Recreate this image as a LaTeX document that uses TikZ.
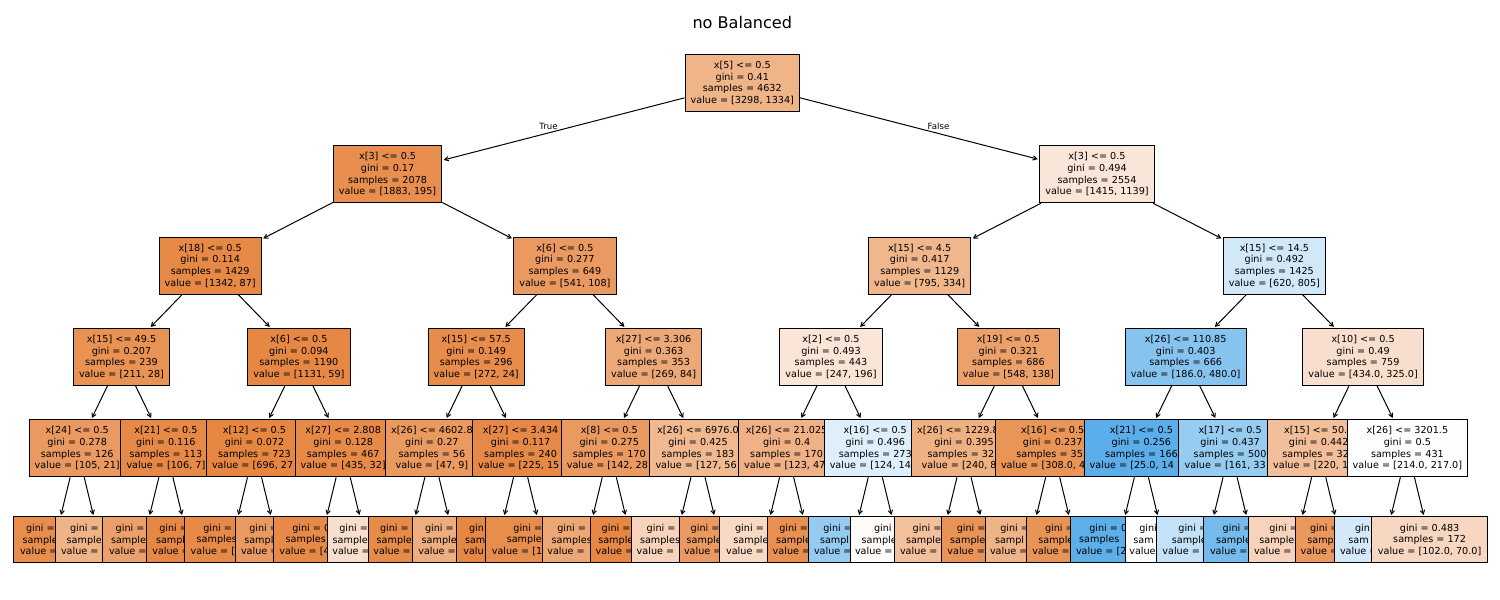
\documentclass[tikz,border=0pt]{standalone}
\usepackage{fontspec}
\setmainfont{DejaVu Sans}
\usetikzlibrary{arrows.meta}
\definecolor{corg}{RGB}{229,129,57}
\definecolor{cblu}{RGB}{57,157,229}
\newcommand{\treefont}{\fontsize{9.65}{11.6}\selectfont}
\newcommand{\leaflines}[6]{\makebox[#1pt][l]{#2}\\\makebox[#3pt][l]{#4}\\\makebox[#5pt][l]{#6}}
\newcommand{\lfd}[3]{\leaflines{#1}{gini =}{#2}{sample}{#3}{value =}}
\tikzset{
  nd/.style={draw=black, line width=1pt, align=center, font=\treefont, inner xsep=5.6pt, inner ysep=0pt, minimum height=57pt},
  lf/.style={nd, minimum height=45.6pt, inner xsep=0pt},
  ed/.style={-{Straight Barb[length=3.9pt,width=4.4pt]}, line width=1pt, shorten >=1.5pt},
  lbl/.style={font=\fontsize{8.6}{10}\selectfont, inner sep=0pt}
}
\begin{document}
\begin{tikzpicture}[x=1pt,y=-1pt]
\fill[white] (0,0) rectangle (1500,600);
\useasboundingbox (0,0) rectangle (1500,600);
\node[font=\fontsize{16.1}{19}\selectfont] (title) at (742.3,22.5) {no Balanced};
% root
\node[nd, fill=corg!59.6!white] (r) at (742.3,83) {x[5] <= 0.5\\gini = 0.41\\samples = 4632\\value = [3298, 1334]};
% ---------- left subtree
\node[nd, fill=corg!89.6!white] (a1) at (387.6,174.3) {x[3] <= 0.5\\gini = 0.17\\samples = 2078\\value = [1883, 195]};
\draw[ed] (r) -- (a1);
\node[nd, fill=corg!93.5!white] (b1) at (210.2,265.7) {x[18] <= 0.5\\gini = 0.114\\samples = 1429\\value = [1342, 87]};
\draw[ed] (a1) -- (b1);
\node[nd, fill=corg!86.7!white] (c1) at (121.5,357) {x[15] <= 49.5\\gini = 0.207\\samples = 239\\value = [211, 28]};
\draw[ed] (b1) -- (c1);
\node[nd, fill=corg!80!white] (d1) at (77.2,448.3) {x[24] <= 0.5\\gini = 0.278\\samples = 126\\value = [105, 21]};
\draw[ed] (c1) -- (d1);
\node[lf, minimum width=83.4pt, fill=corg!90!white] (e0) at (55.0,539.7) {\lfd{58}{64.6}{70}};
\draw[ed] (d1) -- (e0);
\node[lf, minimum width=87.6pt, fill=corg!60!white] (e1) at (99.3,539.7) {\lfd{58.6}{65.2}{76.6}};
\draw[ed] (d1) -- (e1);
\node[nd, fill=corg!93.4!white] (d2) at (165.9,448.3) {x[21] <= 0.5\\gini = 0.116\\samples = 113\\value = [106, 7]};
\draw[ed] (c1) -- (d2);
\node[lf, minimum width=82.8pt, fill=corg!75!white] (e2) at (143.7,539.7) {\lfd{56}{65.4}{69.4}};
\draw[ed] (d2) -- (e2);
\node[lf, minimum width=82.6pt, fill=corg!95!white] (e3) at (188.0,539.7) {\leaflines{57.4}{gini =}{64}{sampl}{71.4}{value =}};
\draw[ed] (d2) -- (e3);
\node[nd, fill=corg!94.8!white] (c2) at (298.9,357) {x[6] <= 0.5\\gini = 0.094\\samples = 1190\\value = [1131, 59]};
\draw[ed] (b1) -- (c2);
\node[nd, fill=corg!96.1!white] (d3) at (254.5,448.3) {x[12] <= 0.5\\gini = 0.072\\samples = 723\\value = [696, 27\phantom{]}};
\draw[ed] (c2) -- (d3);
\node[lf, minimum width=96.2pt, fill=corg!93!white] (e4) at (232.4,539.7) {\leaflines{58.2}{gini =}{71.4}{samples}{83.4}{value = [}};
\draw[ed] (d3) -- (e4);
\node[lf, minimum width=82.8pt, fill=corg!80!white] (e5) at (276.7,539.7) {\leaflines{54.8}{gini =}{64.8}{sampl}{71.4}{value =}};
\draw[ed] (d3) -- (e5);
\node[nd, fill=corg!92.6!white] (d4) at (343.2,448.3) {x[27] <= 2.808\\gini = 0.128\\samples = 467\\value = [435, 32]};
\draw[ed] (c2) -- (d4);
\node[lf, minimum width=95.4pt, fill=corg!93!white] (e6) at (321.0,539.7) {\leaflines{57.4}{gini = 0}{70.6}{samples}{83.4}{value = [4}};
\draw[ed] (d4) -- (e6);
\node[lf, minimum width=75.4pt, fill=corg!25!white] (e7) at (365.4,539.7) {\lfd{52.2}{65.4}{66.2}};
\draw[ed] (d4) -- (e7);
\node[nd, fill=corg!80!white] (b2) at (564.9,265.7) {x[6] <= 0.5\\gini = 0.277\\samples = 649\\value = [541, 108]};
\draw[ed] (a1) -- (b2);
\node[nd, fill=corg!91.2!white] (c3) at (476.2,357) {x[15] <= 57.5\\gini = 0.149\\samples = 296\\value = [272, 24]};
\draw[ed] (b2) -- (c3);
\node[nd, fill=corg!80.9!white] (d5) at (431.9,448.3) {x[26] <= 4602.8\\gini = 0.27\\samples = 56\\value = [47, 9]};
\draw[ed] (c3) -- (d5);
\node[lf, minimum width=82.8pt, fill=corg!92!white] (e8) at (409.7,539.7) {\lfd{59.4}{66}{72.8}};
\draw[ed] (d5) -- (e8);
\node[lf, minimum width=82.8pt, fill=corg!65!white] (e9) at (454.1,539.7) {\lfd{58.2}{64.8}{71.6}};
\draw[ed] (d5) -- (e9);
\node[nd, fill=corg!93.3!white] (d6) at (520.6,448.3) {x[27] <= 3.434\\gini = 0.117\\samples = 240\\value = [225, 15\phantom{]}};
\draw[ed] (c3) -- (d6);
\node[lf, minimum width=83.4pt, fill=corg!95!white] (e10) at (498.4,539.7) {\leaflines{58.8}{gin}{66.8}{sam}{70.2}{valu}};
\draw[ed] (d6) -- (e10);
\node[lf, minimum width=115pt, fill=corg!90!white] (e11) at (542.8,539.7) {\leaflines{58.8}{gini =}{72}{sample}{102}{value = [1}};
\draw[ed] (d6) -- (e11);
\node[nd, fill=corg!68.8!white] (c4) at (653.6,357) {x[27] <= 3.306\\gini = 0.363\\samples = 353\\value = [269, 84]};
\draw[ed] (b2) -- (c4);
\node[nd, fill=corg!80.3!white] (d7) at (609.3,448.3) {x[8] <= 0.5\\gini = 0.275\\samples = 170\\value = [142, 28\phantom{]}};
\draw[ed] (c4) -- (d7);
\node[lf, minimum width=88.8pt, fill=corg!70!white] (e12) at (587.1,539.7) {\leaflines{59.6}{gini =}{70.8}{samples}{79.6}{value =}};
\draw[ed] (d7) -- (e12);
\node[lf, minimum width=82.8pt, fill=corg!95!white] (e13) at (631.4,539.7) {\lfd{59.4}{66.2}{71.4}};
\draw[ed] (d7) -- (e13);
\node[nd, fill=corg!55.9!white] (d8) at (698.0,448.3) {x[26] <= 6976.0\\gini = 0.425\\samples = 183\\value = [127, 56\phantom{]}};
\draw[ed] (c4) -- (d8);
\node[lf, minimum width=88.2pt, fill=corg!35!white] (e14) at (675.8,539.7) {\leaflines{58.2}{gini =}{71.6}{samples}{78.2}{value =}};
\draw[ed] (d8) -- (e14);
\node[lf, minimum width=82.2pt, fill=corg!80!white] (e15) at (720.1,539.7) {\lfd{58.8}{66.8}{72.2}};
\draw[ed] (d8) -- (e15);
% ---------- right subtree
\node[nd, fill=corg!19.5!white] (a2) at (1097.0,174.3) {x[3] <= 0.5\\gini = 0.494\\samples = 2554\\value = [1415, 1139]};
\draw[ed] (r) -- (a2);
\node[nd, fill=corg!58!white] (b3) at (919.7,265.7) {x[15] <= 4.5\\gini = 0.417\\samples = 1129\\value = [795, 334]};
\draw[ed] (a2) -- (b3);
\node[nd, fill=corg!20.6!white] (c5) at (831.0,357) {x[2] <= 0.5\\gini = 0.493\\samples = 443\\value = [247, 196]};
\draw[ed] (b3) -- (c5);
\node[nd, fill=corg!61.8!white] (d9) at (786.6,448.3) {x[26] <= 21.025\\gini = 0.4\\samples = 170\\value = [123, 47\phantom{]}};
\draw[ed] (c5) -- (d9);
\node[lf, minimum width=90pt, fill=corg!30!white] (e16) at (764.5,539.7) {\lfd{58.8}{62.2}{76.8}};
\draw[ed] (d9) -- (e16);
\node[lf, minimum width=82.2pt, fill=corg!88!white] (e17) at (808.8,539.7) {\lfd{59}{65.6}{72.2}};
\draw[ed] (d9) -- (e17);
\node[nd, fill=cblu!16.8!white] (d10) at (875.3,448.3) {x[16] <= 0.5\\gini = 0.496\\samples = 273\\value = [124, 14\phantom{9]}};
\draw[ed] (c5) -- (d10);
\node[lf, minimum width=88.6pt, fill=cblu!53!white] (e18) at (853.1,539.7) {\leaflines{59.6}{gini =}{66.2}{sampl}{78.2}{value =}};
\draw[ed] (d10) -- (e18);
\node[lf, minimum width=95pt, fill=corg!3!white] (e19) at (897.5,539.7) {\leaflines{47}{gini}{71.6}{sample}{85}{value =}};
\draw[ed] (d10) -- (e19);
\node[nd, fill=corg!74.8!white] (c6) at (1008.4,357) {x[19] <= 0.5\\gini = 0.321\\samples = 686\\value = [548, 138]};
\draw[ed] (b3) -- (c6);
\node[nd, fill=corg!62.9!white] (d11) at (964.0,448.3) {x[26] <= 1229.8\phantom{00}\\gini = 0.395\\samples = 32\phantom{9}\\value = [240, 8\phantom{9]}};
\draw[ed] (c6) -- (d11);
\node[lf, minimum width=95.6pt, fill=corg!50!white] (e20) at (941.8,539.7) {\lfd{58.2}{71.6}{83.6}};
\draw[ed] (d11) -- (e20);
\node[lf, minimum width=89pt, fill=corg!85!white] (e21) at (986.2,539.7) {\lfd{58.8}{72}{77.6}};
\draw[ed] (d11) -- (e21);
\node[nd, fill=corg!84.1!white] (d12) at (1052.7,448.3) {x[16] <= 0.5\\gini = 0.237\\samples = 35\phantom{7}\\value = [308.0, 4\phantom{9.0]}};
\draw[ed] (c6) -- (d12);
\node[lf, minimum width=89.6pt, fill=corg!60!white] (e22) at (1030.5,539.7) {\leaflines{60.4}{gini =}{71}{sampl}{81}{value =}};
\draw[ed] (d12) -- (e22);
\node[lf, minimum width=96.2pt, fill=corg!85!white] (e23) at (1074.8,539.7) {\lfd{59.6}{73}{85}};
\draw[ed] (d12) -- (e23);
\node[nd, fill=cblu!23!white] (b4) at (1274.4,265.7) {x[15] <= 14.5\\gini = 0.492\\samples = 1425\\value = [620, 805]};
\draw[ed] (a2) -- (b4);
\node[nd, fill=cblu!61.3!white] (c7) at (1185.7,357) {x[26] <= 110.85\\gini = 0.403\\samples = 666\\value = [186.0, 480.0]};
\draw[ed] (b4) -- (c7);
\node[nd, fill=cblu!82.3!white] (d13) at (1141.4,448.3) {x[21] <= 0.5\\gini = 0.256\\samples = 166\\value = [25.0, 14\phantom{1.0]}};
\draw[ed] (c7) -- (d13);
\node[lf, minimum width=97pt, fill=cblu!82!white] (e24) at (1119.2,539.7) {\leaflines{59.8}{gini = 0}{80}{samples}{86.4}{value = [2}};
\draw[ed] (d13) -- (e24);
\node[lf, minimum width=77pt, fill=white] (e25) at (1163.5,539.7) {\leaflines{48.4}{gini}{60.4}{sam}{68.4}{value}};
\draw[ed] (d13) -- (e25);
\node[nd, fill=cblu!52.5!white] (d14) at (1230.1,448.3) {x[17] <= 0.5\\gini = 0.437\\samples = 500\\value = [161, 33\phantom{9]}};
\draw[ed] (c7) -- (d14);
\node[lf, minimum width=102.4pt, fill=cblu!30!white] (e26) at (1207.9,539.7) {\lfd{59}{72.2}{91}};
\draw[ed] (d14) -- (e26);
\node[lf, minimum width=97.4pt, fill=cblu!70!white] (e27) at (1252.2,539.7) {\lfd{59}{72.4}{84.4}};
\draw[ed] (d14) -- (e27);
\node[nd, fill=corg!25.1!white] (c8) at (1363.1,357) {x[10] <= 0.5\\gini = 0.49\\samples = 759\\value = [434.0, 325.0]};
\draw[ed] (b4) -- (c8);
\node[nd, fill=corg!50.9!white] (d15) at (1318.7,448.3) {x[15] <= 50.\phantom{5}\\gini = 0.442\\samples = 32\phantom{8}\\value = [220, 1\phantom{08]}};
\draw[ed] (c8) -- (d15);
\node[lf, minimum width=96.4pt, fill=corg!35!white] (e28) at (1296.5,539.7) {\lfd{54.4}{74.4}{85}};
\draw[ed] (d15) -- (e28);
\node[lf, minimum width=90.4pt, fill=corg!82!white] (e29) at (1340.9,539.7) {\leaflines{61.8}{gini =}{67.2}{samp}{80.4}{value =}};
\draw[ed] (d15) -- (e29);
\node[nd, fill=cblu!1.4!white] (d16) at (1407.4,448.3) {x[26] <= 3201.5\\gini = 0.5\\samples = 431\\value = [214.0, 217.0]};
\draw[ed] (c8) -- (d16);
\node[lf, minimum width=101.8pt, fill=cblu!22!white] (e30) at (1385.2,539.7) {\leaflines{60.4}{gin}{73.8}{sam}{90.4}{value =}};
\draw[ed] (d16) -- (e30);
\node[lf, minimum width=115.8pt, fill=corg!31.4!white] (e31) at (1429.6,539.7) {gini = 0.483\\samples = 172\\value = [102.0, 70.0]};
\draw[ed] (d16) -- (e31);
% edge labels
\node[lbl] (tl) at (548.5,126) {True};
\node[lbl] (fl) at (938.5,126) {False};
\end{tikzpicture}
\end{document}
